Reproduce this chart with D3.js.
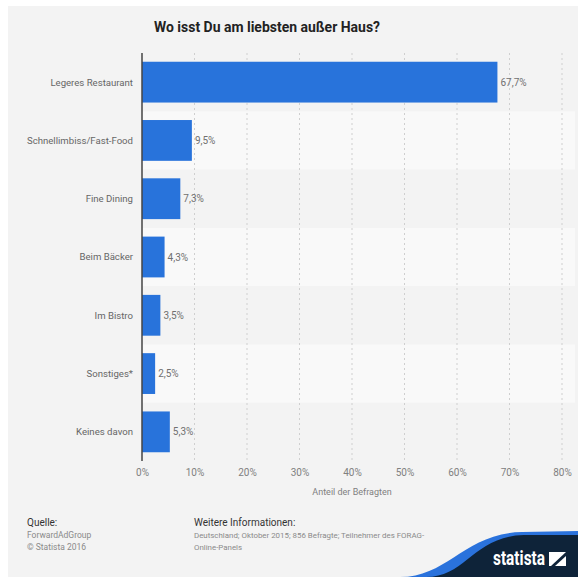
<!DOCTYPE html>
<html>
<head>
<meta charset="utf-8">
<script src="https://cdn.jsdelivr.net/npm/d3@7"></script>
<style>
  html, body { margin: 0; padding: 0; background: #ffffff; }
  svg { display: block; font-family: Roboto, "Noto Sans", sans-serif; }
</style>
</head>
<body>
<svg id="chart" width="578" height="579"></svg>
<script>
// Survey: where people prefer to eat out (share of respondents, %)
const categories = [
  "Legeres Restaurant",
  "Schnellimbiss/Fast-Food",
  "Fine Dining",
  "Beim Bäcker",
  "Im Bistro",
  "Sonstiges*",
  "Keines davon"
];
const shares = [67.7, 9.5, 7.3, 4.3, 3.5, 2.5, 5.3];
const tickValues = [0, 10, 20, 30, 40, 50, 60, 70, 80];

const titleText = "Wo isst Du am liebsten außer Haus?";
const axisTitle = "Anteil der Befragten";
const sourceLines = ["Quelle:", "ForwardAdGroup", "© Statista 2016"];
const infoLines = ["Weitere Informationen:", "Deutschland; Oktober 2015; 856 Befragte; Teilnehmer des FORAG-", "Online-Panels"];

const data = categories.map((c, i) => ({ category: c, value: shares[i] }));
const fmt = v => d3.format(".1f")(v).replace(".", ",") + "%";

const svg = d3.select("#chart");

// card background
svg.append("rect")
  .attr("x", 8).attr("y", 6).attr("width", 570).attr("height", 571)
  .attr("fill", "#f3f3f3");

const plot = { left: 142, right: 562, top: 53, bottom: 461 };

const x = d3.scaleLinear().domain([0, 80]).range([plot.left, plot.right]);
const y = d3.scaleBand().domain(categories).range([plot.top, plot.bottom]).paddingInner(0.3).paddingOuter(0.15);

// alternating row stripes
const step = y.step();
svg.append("g").selectAll("rect")
  .data(data.filter((d, i) => i % 2 === 1))
  .join("rect")
  .attr("x", plot.left)
  .attr("y", d => y(d.category) - step * 0.15)
  .attr("width", 575 - plot.left)
  .attr("height", step)
  .attr("fill", "#f9f9f9");

// dotted vertical gridlines
svg.append("g").selectAll("line")
  .data(tickValues.filter(t => t > 0))
  .join("line")
  .attr("x1", d => x(d)).attr("x2", d => x(d))
  .attr("y1", plot.top).attr("y2", plot.bottom)
  .attr("stroke", "#cfcfcf")
  .attr("stroke-width", 1)
  .attr("stroke-dasharray", "2,3");

// bars
svg.append("g").selectAll("rect")
  .data(data)
  .join("rect")
  .attr("x", x(0))
  .attr("y", d => y(d.category))
  .attr("width", d => x(d.value) - x(0))
  .attr("height", y.bandwidth())
  .attr("fill", "#2873db");

// value labels
svg.append("g").selectAll("text")
  .data(data)
  .join("text")
  .attr("x", d => x(d.value) + 3)
  .attr("y", d => y(d.category) + y.bandwidth() / 2)
  .attr("dy", "0.35em")
  .attr("font-size", 10)
  .attr("fill", "#707070")
  .text(d => fmt(d.value));

// category labels
svg.append("g").selectAll("text")
  .data(data)
  .join("text")
  .attr("x", 133)
  .attr("y", d => y(d.category) + y.bandwidth() / 2)
  .attr("dy", "0.35em")
  .attr("text-anchor", "end")
  .attr("font-size", 9.6)
  .attr("fill", "#666")
  .text(d => d.category);

// baseline
svg.append("line")
  .attr("x1", x(0)).attr("x2", x(0))
  .attr("y1", plot.top).attr("y2", plot.bottom)
  .attr("stroke", "#444").attr("stroke-width", 1.5);

// x axis ticks
const xAxis = d3.axisBottom(x).tickValues(tickValues).tickSize(0).tickPadding(8)
  .tickFormat(d => d + "%");
const ax = svg.append("g").attr("transform", `translate(0,${plot.bottom})`).call(xAxis);
ax.select(".domain").remove();
ax.selectAll("text").attr("font-size", 10).attr("fill", "#808080")
  .attr("font-family", "Roboto, 'Noto Sans', sans-serif");

// axis title
svg.append("text")
  .attr("x", (plot.left + plot.right) / 2)
  .attr("y", 495)
  .attr("text-anchor", "middle")
  .attr("font-size", 9)
  .attr("fill", "#808080")
  .text(axisTitle);

// chart title
svg.append("text")
  .attr("x", 267).attr("y", 32)
  .attr("text-anchor", "middle")
  .attr("font-size", 15.5)
  .attr("font-weight", "bold")
  .attr("fill", "#222")
  .attr("textLength", 226)
  .attr("lengthAdjust", "spacingAndGlyphs")
  .text(titleText);

// footer: source and further information
const footer = svg.append("g");
sourceLines.forEach((t, i) => {
  footer.append("text")
    .attr("x", 27).attr("y", 526 + i * 12)
    .attr("fill", i === 0 ? "#333" : "#8a8a8a")
    .attr("font-size", i === 0 ? 10 : 8.5)
    .text(t);
});
infoLines.forEach((t, i) => {
  footer.append("text")
    .attr("x", 194).attr("y", 526 + i * 12)
    .attr("fill", i === 0 ? "#333" : "#8a8a8a")
    .attr("font-size", i === 0 ? 10 : 7.9)
    .text(t);
});

// brand corner
const corner = svg.append("g");
corner.append("path")
  .attr("d", "M400,577 C448,577 465,533 522,532 L578,531 L578,577 Z")
  .attr("fill", "#2a72dc");
corner.append("path")
  .attr("d", "M426,577 C466,577 474,536 524,535 L578,535 L578,577 Z")
  .attr("fill", "#0e2339");
corner.append("text")
  .attr("x", 493).attr("y", 565)
  .attr("font-size", 21)
  .attr("font-weight", "bold")
  .attr("fill", "#ffffff")
  .attr("textLength", 52)
  .attr("lengthAdjust", "spacingAndGlyphs")
  .text("statista");
// logo square
corner.append("rect")
  .attr("x", 549).attr("y", 552).attr("width", 17).attr("height", 14)
  .attr("fill", "#ffffff");
corner.append("path")
  .attr("d", "M551,566 L566,552 L566,556 L555,566 Z")
  .attr("fill", "#0e2339");
</script>
</body>
</html>
